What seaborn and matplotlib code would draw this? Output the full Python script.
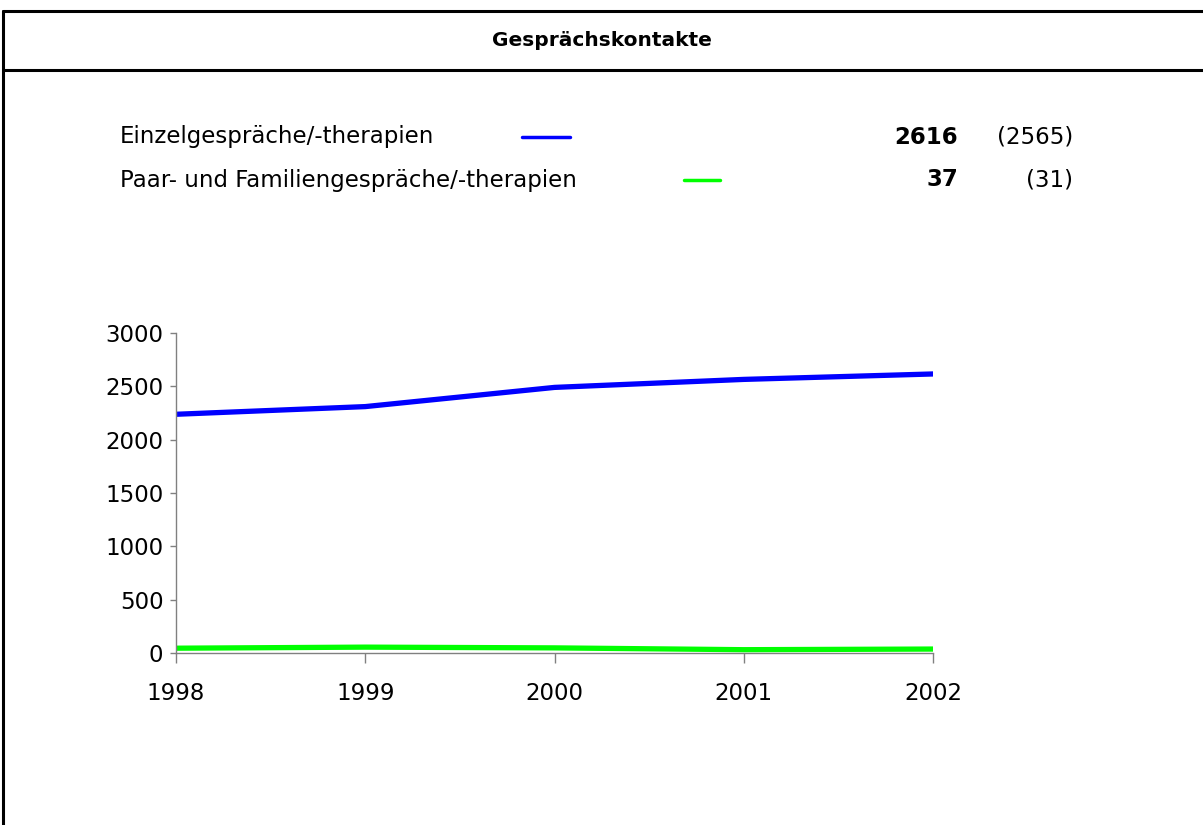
import numpy as np
import pandas as pd
import matplotlib.pyplot as plt
import seaborn as sns
from matplotlib.lines import Line2D

years = [1998, 1999, 2000, 2001, 2002]
einzel = [2238, 2310, 2490, 2565, 2616]
paar = [45, 55, 48, 31, 37]
series_names = ['Einzelgespräche/-therapien', 'Paar- und Familiengespräche/-therapien']
current_vals = ['2616', '37']
previous_vals = ['(2565)', '(31)']
colors = ['#0000FF', '#00FF00']

df = pd.DataFrame({
    'Jahr': years * 2,
    'Wert': einzel + paar,
    'Serie': [series_names[0]] * 5 + [series_names[1]] * 5,
})

sns.set_theme(style='white')
plt.rcParams['font.family'] = ['DejaVu Sans']
plt.rcParams['text.color'] = 'black'
plt.rcParams['xtick.labelcolor'] = 'black'
plt.rcParams['ytick.labelcolor'] = 'black'

fig = plt.figure(figsize=(12.03, 8.25), dpi=100)
W, H = 1203, 825

def fx(px):
    return px / W

def fy(py):
    return 1 - py / H

ax = fig.add_axes([fx(176), fy(653), fx(933) - fx(176), fy(333) - fy(653)])
sns.lineplot(data=df, x='Jahr', y='Wert', hue='Serie', palette=dict(zip(series_names, colors)),
             linewidth=3.8, ax=ax, legend=False)
ax.set_xlim(1998, 2002)
ax.set_ylim(0, 3000)
ax.set_yticks(np.arange(0, 3001, 500))
ax.set_xticks(years)
ax.set_xticklabels([str(y) for y in years])
ax.set_xlabel('')
ax.set_ylabel('')
for s in ['top', 'right']:
    ax.spines[s].set_visible(False)
for s in ['left', 'bottom']:
    ax.spines[s].set_color('#808080')
    ax.spines[s].set_linewidth(1)
ax.tick_params(axis='y', length=4, width=1, color='#808080', labelsize=16.5, pad=5, left=True)
ax.tick_params(axis='x', length=7, width=1, color='#808080', labelsize=16.5, pad=14, bottom=True)

# frame and title
fig.add_artist(Line2D([fx(3), fx(3)], [fy(11), 0], color='black', lw=2.2))
fig.add_artist(Line2D([fx(3), 1], [fy(11), fy(11)], color='black', lw=2.2))
fig.add_artist(Line2D([fx(3), 1], [fy(70), fy(70)], color='black', lw=2.2))
fig.text(0.5, fy(41), 'Gesprächskontakte', ha='center', va='center', fontsize=14.5, fontweight='bold')

# legend block
rows_y = [137, 180]
line_x = [(522, 570), (684, 720)]
for i in range(2):
    y = fy(rows_y[i])
    fig.text(fx(120), y, series_names[i], ha='left', va='center', fontsize=16.5)
    fig.add_artist(Line2D([fx(line_x[i][0]), fx(line_x[i][1])], [y, y], color=colors[i], lw=2.5))
    fig.text(fx(958), y, current_vals[i], ha='right', va='center', fontsize=16.5, fontweight='bold')
    fig.text(fx(1073), y, previous_vals[i], ha='right', va='center', fontsize=16.5)

fig.savefig('out.png', dpi=100)
